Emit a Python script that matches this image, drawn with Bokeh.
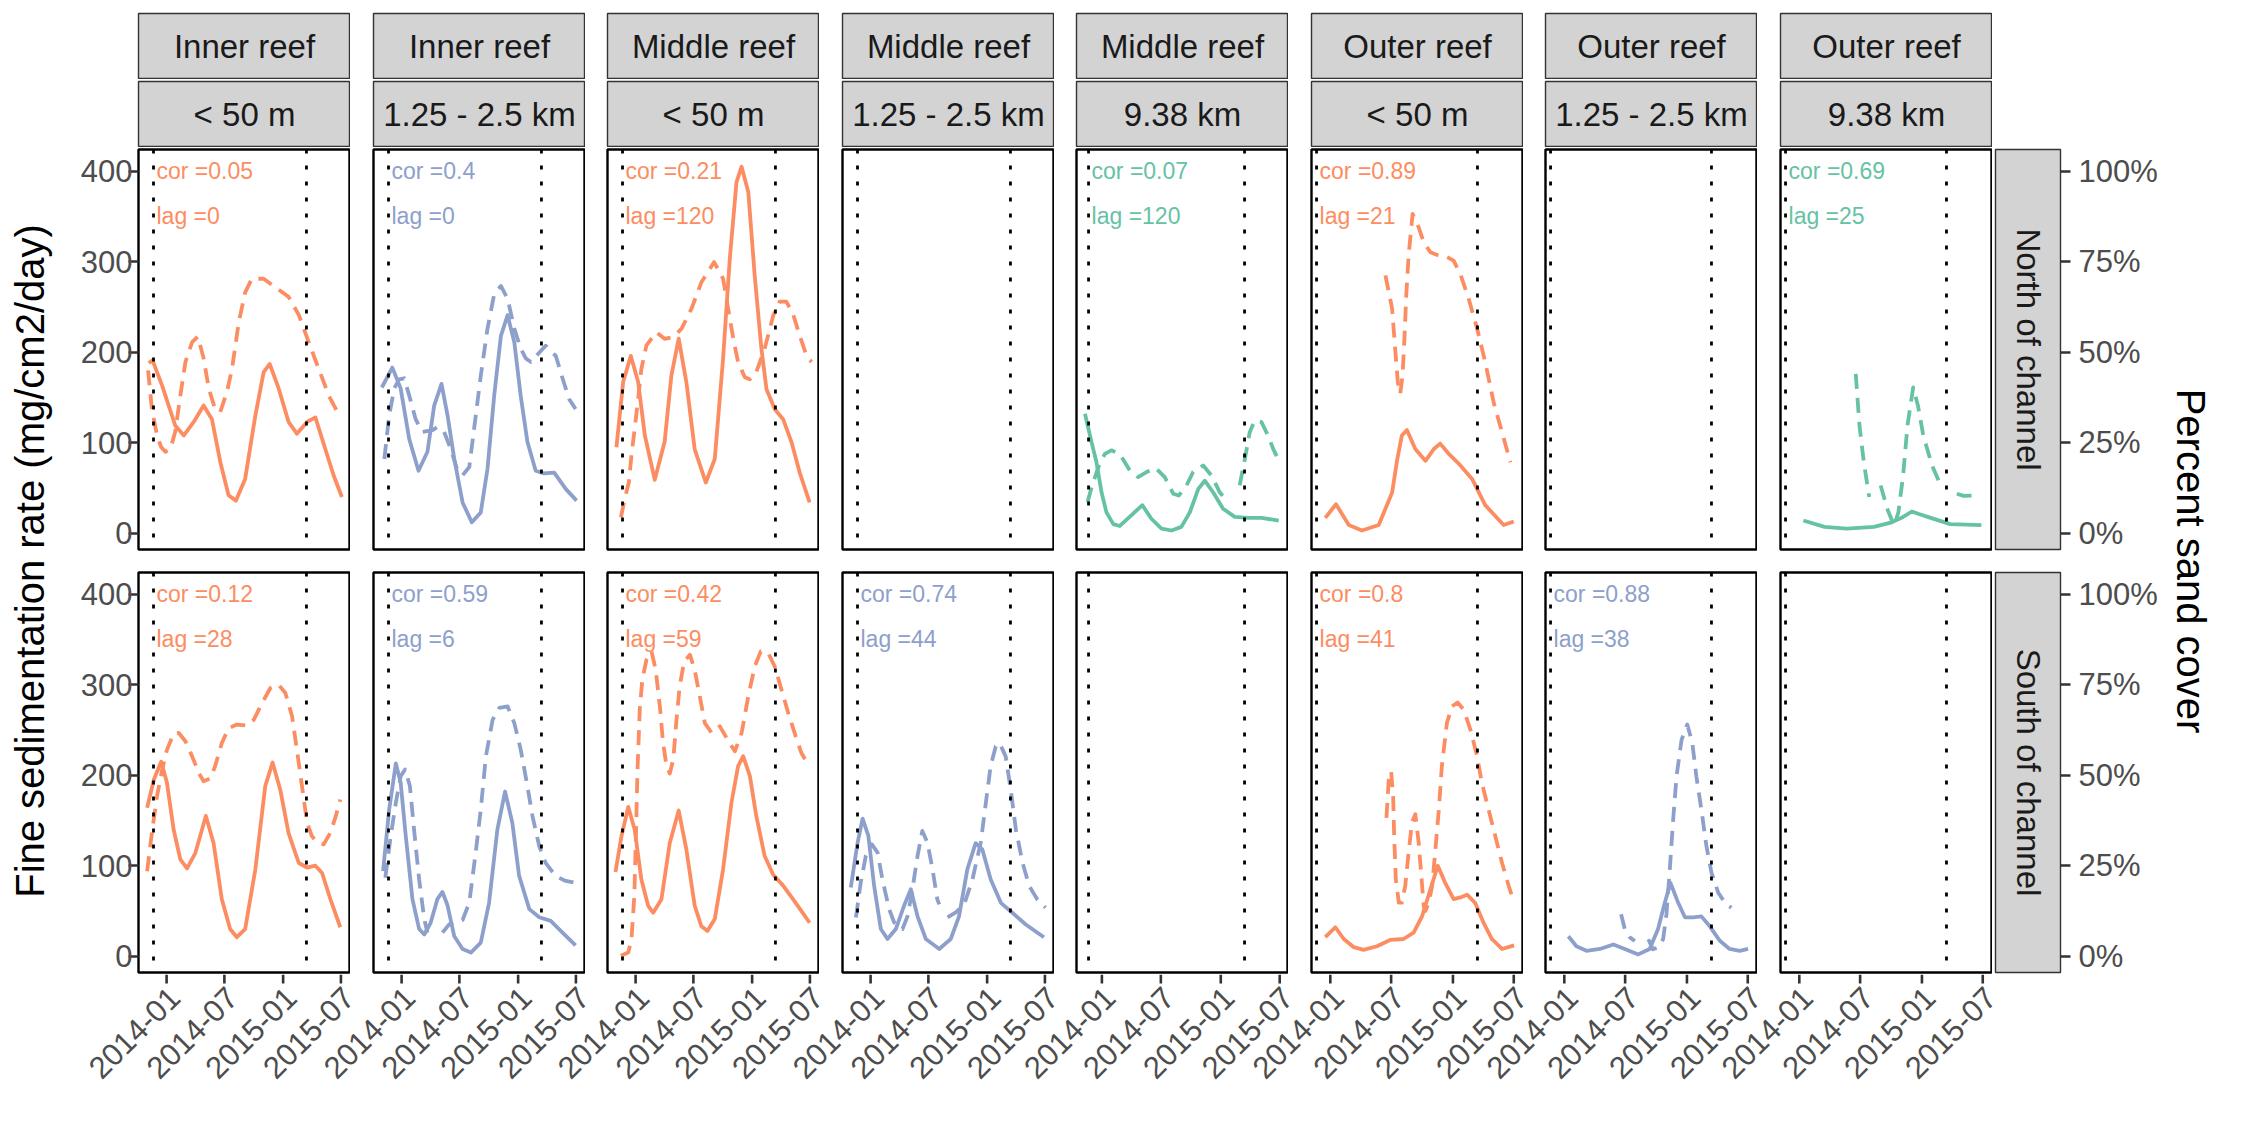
import numpy as np
import pandas as pd
from bokeh.plotting import figure
from bokeh.layouts import row, column
from bokeh.models import Range1d, FixedTicker, PrintfTickFormatter, Span, Spacer
from bokeh.core.properties import value
from bokeh.embed import file_html
from bokeh.resources import INLINE

FONT = "Liberation Sans"

# facet labels
reef = ["Inner reef", "Inner reef", "Middle reef", "Middle reef", "Middle reef",
        "Outer reef", "Outer reef", "Outer reef"]
dist = ["< 50 m", "1.25 - 2.5 km", "< 50 m", "1.25 - 2.5 km", "9.38 km",
        "< 50 m", "1.25 - 2.5 km", "9.38 km"]
side = ["North of channel", "South of channel"]
tick_labels = ["2014-01", "2014-07", "2015-01", "2015-07"]
dredge = ["2013-11-21", "2015-03-15"]

# correlation / lag text per panel (None = empty panel)
cor_n = ["0.05", "0.4", "0.21", None, "0.07", "0.89", None, "0.69"]
lag_n = ["0", "0", "120", None, "120", "21", None, "25"]
cor_s = ["0.12", "0.59", "0.42", "0.74", None, "0.8", "0.88", None]
lag_s = ["28", "6", "59", "44", None, "41", "38", None]

# x: days since 2014-01-01, sed: fine sedimentation (mg/cm2/day), sand: percent sand cover
# ---- North of channel
n_in_50_day = [-56, -44, -14, 27, 54, 85, 116, 142, 168, 194, 217, 246, 278, 304, 323, 351, 382, 408, 440, 466, 497, 523, 549]
n_in_50_sed = [188, 191, 163, 119, 108, 123, 141, 126, 79, 42, 36, 60, 130, 178, 187, 160, 123, 110, 123, 128, 93, 64, 40]
n_in_50_sday = [-58, -46, -30, -17, -4, 12, 27, 43, 59, 80, 98, 116, 132, 152, 168, 189, 205, 226, 246, 267, 304, 340, 382, 414, 445, 476, 508, 544]
n_in_50_sand = [45.0, 34.3, 27.0, 23.8, 22.5, 23.3, 28.0, 38.0, 47.3, 52.8, 54.3, 48.3, 40.0, 34.3, 33.5, 39.0, 45.5, 58.3, 66.5, 70.3, 70.3, 68.0, 65.3, 60.3, 52.8, 45.5, 38.0, 32.0]

n_in_km_day = [-62, -29, -3, 24, 53, 81, 102, 125, 144, 165, 191, 220, 248, 269, 290, 311, 332, 353, 373, 394, 420, 446, 478, 514, 548]
n_in_km_sed = [161, 183, 160, 104, 69, 90, 141, 165, 130, 82, 34, 12, 23, 71, 152, 218, 241, 211, 152, 101, 69, 66, 67, 49, 36]
n_in_km_sday = [-54, -39, -23, -8, 8, 24, 44, 65, 97, 112, 133, 154, 175, 191, 212, 227, 248, 269, 290, 311, 332, 353, 373, 389, 405, 422, 451, 483, 504, 525, 545]
n_in_km_sand = [20.5, 32.5, 40.0, 42.5, 42.8, 38.0, 31.5, 28.0, 28.5, 29.3, 28.0, 23.3, 17.3, 16.0, 18.3, 28.8, 43.5, 56.5, 66.0, 68.3, 64.8, 56.5, 51.0, 48.3, 47.3, 49.0, 51.8, 49.0, 42.8, 37.0, 34.3]

n_mid_50_day = [-60, -39, -15, 8, 29, 60, 91, 112, 135, 159, 185, 220, 248, 274, 295, 316, 332, 353, 373, 394, 410, 436, 462, 488, 514, 545]
n_mid_50_sed = [95, 167, 196, 167, 108, 59, 101, 174, 215, 167, 93, 56, 82, 193, 303, 388, 405, 377, 285, 204, 159, 137, 126, 101, 67, 34]
n_mid_50_sday = [-46, -34, -21, -13, -3, 8, 18, 34, 65, 91, 118, 144, 175, 206, 246, 274, 290, 306, 321, 342, 358, 378, 404, 431, 451, 472, 493, 514, 535, 551]
n_mid_50_sand = [4.4, 9.5, 14.1, 21.5, 28.8, 37.1, 45.4, 51.9, 55.5, 53.7, 54.2, 56.5, 62.0, 69.3, 74.9, 70.3, 62.0, 53.7, 47.3, 43.1, 42.5, 44.5, 50.9, 60.1, 64.0, 64.0, 60.6, 54.6, 49.1, 47.3]

n_mid_9_day = [-52, -32, -17, -1, 14, 35, 55, 91, 124, 152, 183, 214, 244, 270, 296, 316, 342, 372, 408, 449, 490, 543]
n_mid_9_sed = [132, 101, 79, 45, 23, 10, 8, 20, 31, 16, 5, 3, 7, 23, 49, 58, 45, 27, 18, 17, 17, 14]
n_mid_9_sday = [-44, -30, -11, 9, 29, 55, 86, 111, 137, 165, 193, 219, 236, 260, 280, 311, 336, 362, 388, None, 423, 439, 454, 469, 490, 510, 526, 543]
n_mid_9_sand = [8.6, 13.2, 18.2, 21.9, 22.9, 21.9, 17.3, 15.5, 16.9, 18.0, 15.5, 10.9, 10.4, 13.2, 16.9, 18.7, 16.0, 11.3, 8.4, None, 13.2, 20.5, 27.9, 31.1, 30.7, 27.0, 23.3, 20.1]

n_out_50_day = [-15, 17, 55, 94, 144, 164, 184, 198, 213, 228, 253, 283, 308, 327, 352, 382, 422, 461, 516, 546]
n_out_50_sed = [17, 32, 9, 3, 9, 27, 45, 79, 108, 114, 93, 80, 93, 99, 88, 77, 60, 31, 9, 13]
n_out_50_sday = [164, 184, 193, 201, 208, 215, 221, 226, 233, 245, 263, 278, 298, 323, 347, 367, 387, 412, 437, 461, 486, 511, 536]
n_out_50_sand = [71.2, 62.0, 50.9, 41.7, 38.5, 43.5, 54.6, 65.7, 76.7, 88.2, 84.5, 80.4, 77.6, 76.7, 76.3, 75.3, 71.6, 64.7, 56.5, 47.3, 36.2, 27.9, 19.6]

n_out_9_day = [12, 75, 141, 222, 275, 309, 335, 358, 382, 449, 542]
n_out_9_sed = [14, 7, 5, 7, 12, 18, 24, 21, 18, 10, 9]
n_out_9_sday = [168, 179, 192, 208, None, 242, 262, 282, 295, 309, 322, 339, 353, 369, 395, 419, None, 469, 489, 515]
n_out_9_sand = [44.0, 29.8, 19.6, 10.0, None, 13.2, 6.7, 2.1, 5.8, 16.0, 29.8, 40.3, 35.3, 27.0, 18.7, 13.6, None, 10.9, 10.3, 10.4]

# ---- South of channel
s_in_50_day = [-61, -40, -17, 1, 22, 43, 64, 90, 123, 147, 173, 199, 220, 246, 278, 309, 332, 356, 382, 414, 440, 466, 487, 513, 544]
s_in_50_sed = [164, 195, 215, 192, 140, 107, 97, 114, 155, 125, 63, 30, 21, 30, 96, 188, 214, 184, 136, 103, 98, 100, 92, 63, 32]
s_in_50_sday = [-61, -46, -30, -14, 1, 22, 38, 59, 80, 101, 116, 137, 152, 173, 194, 220, 252, 273, 299, 325, 351, 372, 393, 408, 424, 440, 455, 471, 492, 513, 530, 544]
s_in_50_sand = [23.5, 34.1, 44.2, 51.5, 57.0, 61.5, 61.7, 59.4, 55.2, 50.6, 48.3, 49.1, 52.5, 58.9, 63.0, 64.0, 63.7, 65.3, 69.9, 74.1, 75.0, 72.7, 66.3, 57.1, 47.0, 36.9, 33.2, 31.4, 30.9, 34.1, 38.7, 43.3]

s_in_km_day = [-58, -39, -18, -3, 13, 34, 55, 71, 91, 112, 128, 144, 165, 191, 217, 248, 274, 300, 324, 347, 368, 400, 431, 467, 504, 545]
s_in_km_sed = [94, 162, 213, 192, 133, 63, 30, 24, 37, 63, 71, 56, 22, 8, 4, 15, 59, 140, 182, 147, 89, 52, 43, 39, 26, 12]
s_in_km_sday = [-51, -34, -18, -3, 11, 26, 39, 55, 71, 81, None, 128, 149, 191, 212, 232, 248, 264, 285, 306, 332, 353, 373, 394, 410, 431, 451, 483, 514, 543]
s_in_km_sand = [21.7, 33.2, 42.4, 49.7, 51.6, 47.0, 35.0, 21.2, 10.2, 6.5, None, 6.5, 8.8, 10.0, 14.8, 28.6, 40.5, 55.2, 65.3, 68.6, 69.0, 64.4, 57.1, 47.0, 38.7, 30.4, 25.8, 22.1, 20.8, 20.3]

s_mid_50_day = [-63, -44, -23, -3, 18, 39, 55, 81, 107, 135, 159, 185, 206, 225, 248, 274, 300, 321, 337, 358, 378, 404, 431, 462, 493, 519, 545]
s_mid_50_sed = [93, 133, 165, 140, 85, 56, 48, 63, 125, 161, 118, 56, 33, 28, 41, 96, 169, 210, 221, 199, 155, 111, 90, 78, 63, 50, 37]
s_mid_50_sday = [-46, -23, -13, -4, 1, 6, 13, 21, 34, 50, 63, 76, 86, 97, 107, 118, 128, 138, 152, 170, 185, 201, 217, 238, 264, 285, 311, 332, 353, 373, 392, 415, 436, 457, 478, 498, 519, 543]
s_mid_50_sand = [0.1, 1.0, 4.7, 16.6, 33.2, 51.6, 68.1, 76.4, 81.9, 84.2, 79.1, 69.0, 58.9, 52.5, 50.5, 54.3, 65.3, 74.5, 81.4, 83.3, 79.1, 71.8, 64.4, 61.7, 63.5, 60.3, 56.6, 61.7, 71.8, 80.0, 84.2, 83.8, 80.0, 73.6, 67.2, 61.7, 56.2, 52.5]

s_mid_km_day = [-62, -41, -25, -7, 11, 32, 53, 79, 105, 126, 147, 173, 215, 251, 277, 303, 329, 350, 376, 408, 444, 486, 543]
s_mid_km_sed = [76, 125, 152, 133, 78, 30, 19, 30, 56, 74, 44, 19, 8, 19, 44, 96, 125, 118, 85, 59, 48, 35, 21]
s_mid_km_sday = [-46, -31, -15, 4, 22, 37, 58, 74, 100, 116, 131, 147, 162, 178, 194, 209, 215, None, 241, 267, 293, 319, 345, 361, 376, 392, 404, 423, 439, 455, 476, 497, 522, 548]
s_mid_km_sand = [10.7, 20.3, 27.7, 30.9, 28.6, 21.2, 13.0, 9.3, 7.5, 11.1, 18.5, 27.7, 34.6, 31.4, 24.0, 15.7, 14.3, None, 10.7, 12.1, 14.3, 21.2, 31.4, 42.4, 52.5, 58.0, 58.9, 55.2, 46.0, 35.0, 25.8, 19.4, 15.7, 13.4]

s_out_50_day = [-15, 15, 40, 70, 99, 139, 178, 218, 248, 273, 298, 320, 342, 367, 387, 407, 431, 456, 481, 511, 547]
s_out_50_sed = [21, 32, 19, 10, 7, 11, 18, 19, 26, 44, 74, 100, 81, 63, 65, 68, 59, 37, 19, 8, 12]
s_out_50_sday = [167, 174, 181, 187, 190, 195, 204, 213, 223, 233, 243, 253, 263, 271, 278, 283, 293, 303, 312, 323, 332, 347, 362, 379, 397, 417, 437, 451, 471, 491, 511, 531, 544]
s_out_50_sand = [38.2, 48.8, 51.1, 44.2, 33.2, 21.2, 14.8, 14.8, 19.4, 28.6, 36.9, 39.2, 31.4, 22.1, 13.9, 12.5, 14.8, 19.4, 28.6, 40.5, 52.5, 64.4, 69.0, 70.1, 68.1, 62.6, 55.2, 47.9, 40.5, 33.2, 25.8, 19.4, 15.7]

s_out_km_day = [12, 36, 66, 106, 146, 180, 220, 254, 279, 299, 316, 339, 359, 384, 408, 433, 463, 492, 522, 547]
s_out_km_sed = [22, 11, 6, 8, 13, 8, 2, 8, 30, 59, 81, 59, 43, 43, 44, 33, 17, 8, 6, 8]
s_out_km_sday = [169, 180, 195, 210, None, 250, 264, 279, 294, 304, 314, 324, 334, 349, 366, 381, 393, 408, 423, 438, 458, 478, 497]
s_out_km_sand = [11.6, 7.5, 5.2, 4.2, None, 4.7, 1.9, 2.4, 4.7, 11.6, 24.0, 37.8, 49.7, 59.8, 64.0, 58.9, 49.7, 40.5, 30.4, 23.1, 17.6, 14.8, 13.4]

series = {
    (0, 0): (n_in_50_day, n_in_50_sed, n_in_50_sday, n_in_50_sand),
    (0, 1): (n_in_km_day, n_in_km_sed, n_in_km_sday, n_in_km_sand),
    (0, 2): (n_mid_50_day, n_mid_50_sed, n_mid_50_sday, n_mid_50_sand),
    (0, 4): (n_mid_9_day, n_mid_9_sed, n_mid_9_sday, n_mid_9_sand),
    (0, 5): (n_out_50_day, n_out_50_sed, n_out_50_sday, n_out_50_sand),
    (0, 7): (n_out_9_day, n_out_9_sed, n_out_9_sday, n_out_9_sand),
    (1, 0): (s_in_50_day, s_in_50_sed, s_in_50_sday, s_in_50_sand),
    (1, 1): (s_in_km_day, s_in_km_sed, s_in_km_sday, s_in_km_sand),
    (1, 2): (s_mid_50_day, s_mid_50_sed, s_mid_50_sday, s_mid_50_sand),
    (1, 3): (s_mid_km_day, s_mid_km_sed, s_mid_km_sday, s_mid_km_sand),
    (1, 5): (s_out_50_day, s_out_50_sed, s_out_50_sday, s_out_50_sand),
    (1, 6): (s_out_km_day, s_out_km_sed, s_out_km_sday, s_out_km_sand),
}
annot = {0: (cor_n, lag_n), 1: (cor_s, lag_s)}
colors = {"< 50 m": "#FC8D62", "1.25 - 2.5 km": "#8DA0CB", "9.38 km": "#66C2A5"}

# free x scale per column (days since 2014-01-01)
x_lo = [-88, -88, -88, -88, -78, -56, -56, -56]
x_hi = [576, 576, 576, 576, 573, 575, 575, 575]

T0 = pd.Timestamp("2014-01-01")


def ms(days):
    return [np.nan if d is None else (T0 + pd.Timedelta(days=d)).timestamp() * 1000 for d in days]


def num(vals):
    return [np.nan if v is None else v for v in vals]


def date_ms(s):
    return pd.Timestamp(s).timestamp() * 1000


FW, FH = 212, 400
LB = [78, 23, 22, 23, 22, 23, 22, 23]
RW = 175   # right strip + secondary axis column
LW = 3.8
# vertical borders (top, bottom) around the two panel rows
ROW_PAD = [(2, 12), (11, 2)]
TICKS_MS = [date_ms(t + "-01") for t in tick_labels]


def style_axis(ax):
    ax.axis_line_color = None
    ax.major_tick_out = 10
    ax.major_tick_in = 0
    ax.major_tick_line_width = 2.6
    ax.major_tick_line_color = "#333333"
    ax.minor_tick_line_color = None
    ax.major_label_text_font = FONT
    ax.major_label_text_font_size = "31px"
    ax.major_label_text_color = "#4D4D4D"


def strip(text, c, height, top):
    s = figure(width=LB[c] + FW, height=height, x_range=Range1d(0, 1), y_range=Range1d(0, 1),
               x_axis_location=None, y_axis_location=None, toolbar_location=None,
               output_backend="svg", min_border_left=LB[c], min_border_right=0,
               min_border_top=top, min_border_bottom=0)
    s.grid.visible = False
    s.background_fill_color = "#D3D3D3"
    s.border_fill_color = "white"
    s.outline_line_color = "#333333"
    s.outline_line_width = 1.4
    s.text(x=[0.5], y=[0.5], text=[text], text_align="center", text_baseline="middle",
           text_font=value(FONT), text_font_size="33px", text_color="#1A1A1A")
    return s


def panel(r, c):
    top, bottom = ROW_PAD[r]
    p = figure(width=LB[c] + FW, height=top + FH + bottom, x_axis_type="datetime",
               x_range=Range1d(*ms([x_lo[c], x_hi[c]])), y_range=Range1d(-18, 424),
               x_axis_location=None, y_axis_location="left" if c == 0 else None,
               toolbar_location=None, output_backend="svg",
               min_border_left=LB[c], min_border_right=0,
               min_border_top=top, min_border_bottom=bottom)
    p.extra_y_ranges = {"pct": Range1d(-4.5, 106)}
    p.grid.visible = False
    p.outline_line_color = "black"
    p.outline_line_width = 2.4
    p.background_fill_color = "white"
    p.border_fill_color = "white"

    if c == 0:
        p.yaxis.ticker = FixedTicker(ticks=[0, 100, 200, 300, 400])
        p.yaxis.major_label_standoff = -4
        style_axis(p.yaxis[0])

    for d in dredge:
        p.add_layout(Span(location=date_ms(d), dimension="height", line_color="black",
                          line_width=2.8, line_dash="4 12"))

    col = colors[dist[c]]
    if (r, c) in series:
        day, sed, sday, sand = series[(r, c)]
        p.line(ms(day), num(sed), line_color=col, line_width=LW, line_join="round")
        p.line(ms(sday), num(sand), y_range_name="pct", line_color=col, line_width=LW,
               line_dash="15 9", line_join="round")
        cor, lag = annot[r]
        x0 = date_ms(dredge[0])
        p.text(x=[x0, x0], y=[400, 350], text=["cor =" + cor[c], "lag =" + lag[c]],
               text_align="left", text_baseline="middle", x_offset=3,
               text_font=value(FONT), text_font_size="23px", text_color=col)
    return p


def bottom_axis(height):
    # tick marks and rotated date labels for each column, on that column's own time scale
    width = sum(LB) + 8 * FW + RW
    b = figure(width=width, height=height, x_range=Range1d(0, width),
               y_range=Range1d(-height, 0), x_axis_location=None, y_axis_location=None,
               toolbar_location=None, output_backend="svg", min_border=0)
    b.grid.visible = False
    b.outline_line_color = None
    b.border_fill_color = "white"
    ranges = {}
    off = 0
    for c in range(8):
        off += LB[c]
        lo, hi = ms([x_lo[c], x_hi[c]])
        k = (hi - lo) / FW
        ranges["c%d" % c] = Range1d(lo - off * k, lo + (width - off) * k)
        off += FW
    b.extra_x_ranges = ranges
    for c in range(8):
        name = "c%d" % c
        b.segment(x0=TICKS_MS, y0=[0] * 4, x1=TICKS_MS, y1=[-9] * 4, x_range_name=name,
                  line_color="#333333", line_width=2.6)
        b.text(x=TICKS_MS, y=[-10] * 4, text=tick_labels, x_range_name=name,
               angle=np.pi / 4, text_align="right", text_baseline="top",
               text_font=value(FONT), text_font_size="31px", text_color="#4D4D4D")
    return b


def side_strip(label, r):
    top, bottom = ROW_PAD[r]
    s = figure(width=RW, height=top + FH + bottom, x_range=Range1d(0, 1),
               y_range=Range1d(-4.5, 106), x_axis_location=None, y_axis_location="right",
               toolbar_location=None, output_backend="svg", min_border_left=3,
               min_border_right=RW - 68, min_border_top=top, min_border_bottom=bottom)
    s.grid.visible = False
    s.background_fill_color = "#D3D3D3"
    s.border_fill_color = "white"
    s.outline_line_color = "#333333"
    s.outline_line_width = 1.4
    s.yaxis.ticker = FixedTicker(ticks=[0, 25, 50, 75, 100])
    s.yaxis.formatter = PrintfTickFormatter(format="%d%%")
    s.yaxis.major_label_standoff = 8
    style_axis(s.yaxis[0])
    s.text(x=[0.5], y=[50.75], text=[label], angle=-np.pi / 2, text_align="center",
           text_baseline="middle", text_font=value(FONT), text_font_size="33px",
           text_color="#1A1A1A")
    return s


def axis_title(width, x, text, angle):
    t = figure(width=width, height=1104, x_range=Range1d(0, width), y_range=Range1d(0, 1104),
               x_axis_location=None, y_axis_location=None, toolbar_location=None,
               output_backend="svg", min_border=0)
    t.grid.visible = False
    t.outline_line_color = None
    t.text(x=[x], y=[543.5], text=[text], angle=angle, text_align="center",
           text_baseline="middle", text_font=value(FONT), text_font_size="40px",
           text_color="black")
    return t


cols = []
for c in range(8):
    cols.append(column(strip(reef[c], c, 79, 13), strip(dist[c], c, 68, 2),
                       panel(0, c), panel(1, c)))

right = column(Spacer(width=RW, height=147), side_strip(side[0], 0), side_strip(side[1], 1))
upper_h = 147 + sum(t + FH + b for t, b in ROW_PAD)
main = column(row(*cols, right), bottom_axis(1104 - upper_h))

layout = row(axis_title(60, 29, "Fine sedimentation rate (mg/cm2/day)", np.pi / 2),
             main,
             axis_title(59, 23, "Percent sand cover", -np.pi / 2))

open("out.html", "w").write(file_html(layout, INLINE))
